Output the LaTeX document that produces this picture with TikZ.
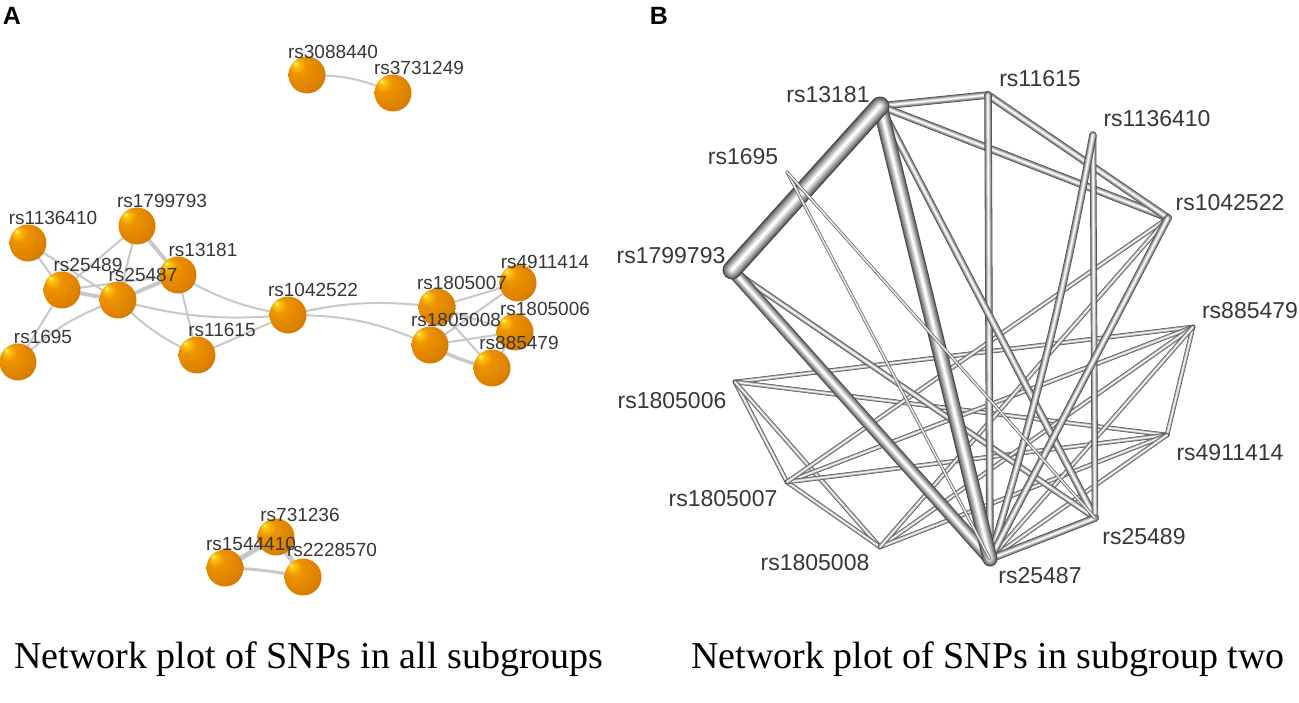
\documentclass[tikz,border=0pt]{standalone}
\usepackage{fontspec}
\setmainfont{Liberation Serif}
\setsansfont{Liberation Sans}
\usetikzlibrary{calc}
\definecolor{hlc}{RGB}{255,250,150}
\definecolor{oca}{RGB}{255,200,15}
\definecolor{ocb}{RGB}{238,148,0}
\definecolor{occ}{RGB}{218,126,0}
\definecolor{ocd}{RGB}{168,88,0}
\definecolor{oce}{RGB}{105,56,8}
\definecolor{edgeA}{RGB}{200,200,200}
\definecolor{txt}{RGB}{55,55,55}
\pgfdeclareradialshading{orb}{\pgfpoint{-16bp}{16bp}}{color(0bp)=(hlc); color(3bp)=(oca); color(11bp)=(ocb); color(30bp)=(occ); color(42bp)=(ocd); color(50bp)=(oce)}
\newcommand\tube[4][--]{%
  \foreach \f/\c in {1/black!72, 0.86/black!56, 0.7/black!42, 0.52/black!28, 0.32/black!12, 0.12/white}{%
    \draw[line width=\f*#4pt, color=\c, line cap=round] (#2) #1 (#3);
  }%
}
\begin{document}
\begin{tikzpicture}[x=1pt,y=1pt,
  lblA/.style={font=\sffamily\fontsize{19}{19}\selectfont, text=txt, inner sep=0pt},
  lblB/.style={font=\sffamily\fontsize{23}{23}\selectfont, text=txt, inner sep=0pt},
  aedge/.style={draw=edgeA, line width=2pt},
  athick/.style={draw=edgeA, line width=4pt},
  sphere/.style={circle, minimum size=37pt, inner sep=0pt, shading=orb},
  panelletter/.style={font=\sffamily\bfseries\fontsize{25}{25}\selectfont, inner sep=0pt},
  captext/.style={font=\fontsize{38}{40}\selectfont, anchor=base, inner sep=0pt}]
\useasboundingbox (0,0) rectangle (1299,702);
\fill[white] (0,0) rectangle (1299,702);

% ---------------- Panel A coordinates ----------------
\coordinate (a3088440) at (307,627);
\coordinate (a3731249) at (393,609);
\coordinate (a1136410) at (28,459);
\coordinate (a1799793) at (137,476);
\coordinate (a13181) at (178,427);
\coordinate (a25489) at (62,412);
\coordinate (a25487) at (118,402);
\coordinate (a1695) at (18,340);
\coordinate (a11615) at (197,347);
\coordinate (a1042522) at (288,387);
\coordinate (a1805007) at (437,395);
\coordinate (a4911414) at (518,419);
\coordinate (a1805006) at (515,370);
\coordinate (a1805008) at (430,357);
\coordinate (a885479) at (492,334);
\coordinate (a731236) at (276,165);
\coordinate (a1544410) at (225,134);
\coordinate (a2228570) at (303,125);

% edges A
\draw[aedge] (a3088440) to[out=0,in=155] (a3731249);
\draw[draw=edgeA, line width=5pt] (a1544410) -- (a731236);
\draw[draw=edgeA, line width=5pt] (a731236) -- (a2228570);
\draw[draw=edgeA, line width=3pt] (a1544410) to[bend left=5] (a2228570);

\draw[aedge] (a1136410) -- (a25487);
\draw[aedge] (a1136410) -- (a25489);
\draw[athick] (a1799793) -- (a13181);
\draw[aedge] (a1799793) -- (a25489);
\draw[aedge] (a1799793) -- (a25487);
\draw[athick] (a13181) -- (a25487);
\draw[aedge] (a13181) -- (a25489);
\draw[athick] (a25489) -- (a25487);
\draw[aedge] (a13181) -- (a11615);
\draw[aedge] (a13181) to[bend right=10] (a1042522);
\draw[aedge] (a25487) to[bend right=10] (a1042522);
\draw[aedge] (a25487) to[bend right=10] (a11615);
\draw[aedge] (a25487) to[bend right=12] (a1695);
\draw[aedge] (a25489) -- (a1695);
\draw[aedge] (a11615) -- (a1042522);
\draw[aedge] (a1042522) to[bend left=10] (a1805007);
\draw[aedge] (a1042522) to[bend left=12] (a1805008);
\draw[aedge] (a1805007) -- (a4911414);
\draw[aedge] (a1805008) -- (a4911414);
\draw[aedge] (a1805007) -- (a885479);
\draw[aedge] (a1805007) -- (a1805006);
\draw[aedge] (a1805008) -- (a1805006);
\draw[draw=edgeA, line width=3.5pt] (a1805008) to[bend right=8] (a885479);
\draw[aedge] (a885479) -- (a1805006);
\draw[aedge] (a1805007) -- (a1805008);

% spheres A
\foreach \n in {3088440,3731249,1136410,1799793,13181,25489,25487,1695,11615,1042522,1805007,4911414,1805006,1805008,885479,731236,1544410,2228570}{
  \node[sphere] (s\n) at (a\n) {};
}

% labels A
\node[lblA] (l3088440) at (333,650) {rs3088440};
\node[lblA] (l3731249) at (419,634) {rs3731249};
\node[lblA] (l1136410) at (53,484) {rs1136410};
\node[lblA] (l1799793) at (162,501) {rs1799793};
\node[lblA] (l13181) at (203,452) {rs13181};
\node[lblA] (l25489) at (88,437) {rs25489};
\node[lblA] (l25487) at (143,427) {rs25487};
\node[lblA] (l1695) at (43,365) {rs1695};
\node[lblA] (l11615) at (222,372) {rs11615};
\node[lblA] (l1042522) at (313,412) {rs1042522};
\node[lblA] (l1805007) at (462,419) {rs1805007};
\node[lblA] (l4911414) at (545,440) {rs4911414};
\node[lblA] (l1805006) at (545,393) {rs1805006};
\node[lblA] (l1805008) at (456,382) {rs1805008};
\node[lblA] (l885479) at (519,359) {rs885479};
\node[lblA] (l731236) at (300,187) {rs731236};
\node[lblA] (l1544410) at (251,158) {rs1544410};
\node[lblA] (l2228570) at (332,152) {rs2228570};

% ---------------- Panel B ----------------
\coordinate (b13181) at (880,596);
\coordinate (b11615) at (988,607);
\coordinate (b1136410) at (1093,567);
\coordinate (b1042522) at (1168,484);
\coordinate (b885479) at (1193,375);
\coordinate (b4911414) at (1167,267);
\coordinate (b25489) at (1095,184);
\coordinate (b25487) at (990,143);
\coordinate (b1805008) at (880,155);
\coordinate (b1805007) at (787,220);
\coordinate (b1805006) at (735,320);
\coordinate (b1799793) at (732,432);
\coordinate (b1695) at (787,530);

\tube{b1805006}{b885479}{4.5}
\tube{b1805006}{b4911414}{4.5}
\tube{b1805006}{b1805007}{4.5}
\tube{b1805006}{b1805008}{4.5}
\tube{b1805007}{b1805008}{4.5}
\tube{b1805007}{b885479}{4.5}
\tube{b1805007}{b4911414}{4.5}
\tube{b1805008}{b885479}{4.5}
\tube{b1805008}{b4911414}{4.5}
\tube{b885479}{b4911414}{4.5}
\tube{b1042522}{b1805007}{4.5}
\tube{b1042522}{b1805008}{4.5}
\tube{b25487}{b4911414}{4.5}
\tube{b25487}{b885479}{4.5}
\tube{b1799793}{b25489}{6}
\tube{b13181}{b11615}{7.5}
\tube{b13181}{b1042522}{7.5}
\tube{b11615}{b1042522}{7.5}
\tube{b11615}{b25487}{7.5}
\tube{b13181}{b25489}{7.5}
\tube{b1136410}{b25489}{6.5}
\tube[{to[bend left=3]}]{b1136410}{b25487}{7.5}
\tube{b1042522}{b25487}{7.5}
\tube{b25487}{b25489}{7.5}
\tube{b1799793}{b25487}{13}
\tube{b13181}{b25487}{15}
\tube{b1799793}{b13181}{19}
\tube{b1695}{b25487}{3}
\tube{b1695}{b25489}{3}

\node[lblB] (m13181) at (828,607) {rs13181};
\node[lblB] (m11615) at (1040,623) {rs11615};
\node[lblB] (m1136410) at (1157,583) {rs1136410};
\node[lblB] (m1042522) at (1230,499) {rs1042522};
\node[lblB] (m885479) at (1250,391) {rs885479};
\node[lblB] (m4911414) at (1230,249) {rs4911414};
\node[lblB] (m25489) at (1144,165) {rs25489};
\node[lblB] (m25487) at (1040,126) {rs25487};
\node[lblB] (m1805008) at (815,139) {rs1805008};
\node[lblB] (m1805007) at (723,203) {rs1805007};
\node[lblB] (m1805006) at (672,301) {rs1805006};
\node[lblB] (m1799793) at (671,446) {rs1799793};
\node[lblB] (m1695) at (743,545) {rs1695};

% panel letters and captions
\node[panelletter] (pA) at (12,686) {A};
\node[panelletter] (pB) at (659,686) {B};
\node[captext] (capA) at (309,34) {Network plot of SNPs in all subgroups};
\node[captext] (capB) at (988,34) {Network plot of SNPs in subgroup two};
\end{tikzpicture}
\end{document}
